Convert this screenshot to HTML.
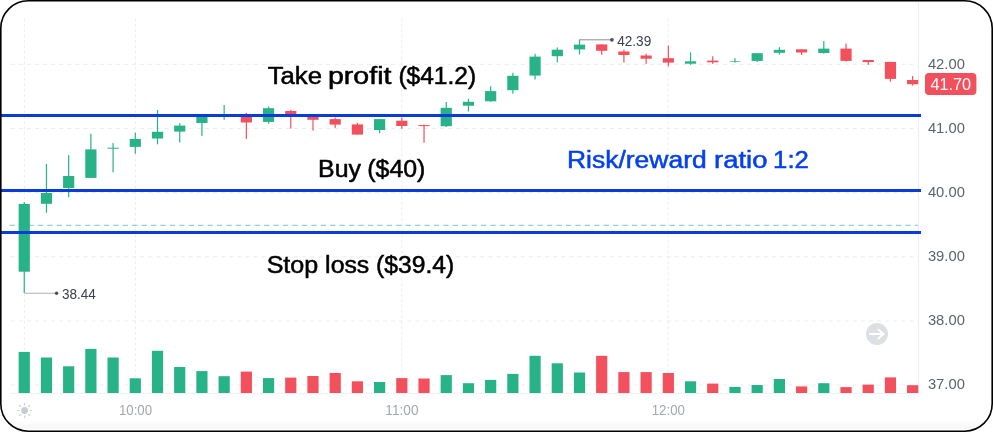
<!DOCTYPE html>
<html><head><meta charset="utf-8"><title>Risk/reward chart</title>
<style>
html,body{margin:0;padding:0;background:#fff;}
body{width:993px;height:432px;overflow:hidden;}
svg{display:block;font-family:"Liberation Sans",sans-serif;}
.an{font-size:23px;fill:#000;stroke:#000;stroke-width:0.5px;}
.bl{fill:#0540ee;stroke:#0540ee;}
.ax{font-size:15.2px;fill:#5e6370;}
.tag{font-size:15.7px;fill:#fff;}
.hl{font-size:14.2px;fill:#3c404c;}
.tm{font-size:14.5px;fill:#a3a7b0;}
</style></head><body>
<svg width="993" height="432" viewBox="0 0 993 432">
<rect x="0" y="0" width="993" height="432" fill="#fff"/>
<line x1="10.65" x2="918" y1="64.3" y2="64.3" stroke="#ebecef" stroke-width="1" stroke-dasharray="4.05 4.047"/>
<line x1="10.65" x2="918" y1="128.5" y2="128.5" stroke="#ebecef" stroke-width="1" stroke-dasharray="4.05 4.047"/>
<line x1="10.65" x2="918" y1="192.7" y2="192.7" stroke="#ebecef" stroke-width="1" stroke-dasharray="4.05 4.047"/>
<line x1="10.65" x2="918" y1="256.8" y2="256.8" stroke="#ebecef" stroke-width="1" stroke-dasharray="4.05 4.047"/>
<line x1="10.65" x2="918" y1="321.0" y2="321.0" stroke="#ebecef" stroke-width="1" stroke-dasharray="4.05 4.047"/>
<line x1="10.65" x2="918" y1="385.0" y2="385.0" stroke="#ebecef" stroke-width="1" stroke-dasharray="4.05 4.047"/>
<line x1="24.4" x2="24.4" y1="18.5" y2="393" stroke="#ebecef" stroke-width="1" stroke-dasharray="2.7 2.7"/>
<line x1="135.4" x2="135.4" y1="18.5" y2="393" stroke="#ebecef" stroke-width="1" stroke-dasharray="2.7 2.7"/>
<line x1="401.8" x2="401.8" y1="18.5" y2="393" stroke="#ebecef" stroke-width="1" stroke-dasharray="2.7 2.7"/>
<line x1="668.2" x2="668.2" y1="18.5" y2="393" stroke="#ebecef" stroke-width="1" stroke-dasharray="2.7 2.7"/>
<line x1="918.5" x2="918.5" y1="2" y2="393.5" stroke="#ededf0" stroke-width="1"/>
<line x1="10.5" x2="918.5" y1="393.5" y2="393.5" stroke="#f1f2f4" stroke-width="1"/>
<rect x="18.65" y="351.9" width="11.2" height="41.1" fill="#27b387"/>
<rect x="40.86" y="357.5" width="11.2" height="35.5" fill="#27b387"/>
<rect x="63.07" y="366.3" width="11.2" height="26.7" fill="#27b387"/>
<rect x="85.28" y="348.9" width="11.2" height="44.1" fill="#27b387"/>
<rect x="107.49" y="357.5" width="11.2" height="35.5" fill="#27b387"/>
<rect x="129.70" y="378.3" width="11.2" height="14.7" fill="#27b387"/>
<rect x="151.91" y="350.8" width="11.2" height="42.2" fill="#27b387"/>
<rect x="174.12" y="367" width="11.2" height="26.0" fill="#27b387"/>
<rect x="196.33" y="371.1" width="11.2" height="21.9" fill="#27b387"/>
<rect x="218.54" y="376.2" width="11.2" height="16.8" fill="#27b387"/>
<rect x="240.75" y="371.6" width="11.2" height="21.4" fill="#f2505d"/>
<rect x="262.96" y="378.1" width="11.2" height="14.9" fill="#27b387"/>
<rect x="285.17" y="377.6" width="11.2" height="15.4" fill="#f2505d"/>
<rect x="307.38" y="376" width="11.2" height="17.0" fill="#f2505d"/>
<rect x="329.59" y="373" width="11.2" height="20.0" fill="#f2505d"/>
<rect x="351.80" y="381.3" width="11.2" height="11.7" fill="#f2505d"/>
<rect x="374.01" y="382" width="11.2" height="11.0" fill="#27b387"/>
<rect x="396.22" y="378.1" width="11.2" height="14.9" fill="#f2505d"/>
<rect x="418.43" y="378.5" width="11.2" height="14.5" fill="#f2505d"/>
<rect x="440.64" y="375.1" width="11.2" height="17.9" fill="#27b387"/>
<rect x="462.85" y="383.2" width="11.2" height="9.8" fill="#27b387"/>
<rect x="485.06" y="379.9" width="11.2" height="13.1" fill="#27b387"/>
<rect x="507.27" y="373.9" width="11.2" height="19.1" fill="#27b387"/>
<rect x="529.48" y="355.8" width="11.2" height="37.2" fill="#27b387"/>
<rect x="551.69" y="363.3" width="11.2" height="29.7" fill="#27b387"/>
<rect x="573.90" y="372.5" width="11.2" height="20.5" fill="#27b387"/>
<rect x="596.11" y="355.8" width="11.2" height="37.2" fill="#f2505d"/>
<rect x="618.32" y="372.1" width="11.2" height="20.9" fill="#f2505d"/>
<rect x="640.53" y="372.1" width="11.2" height="20.9" fill="#f2505d"/>
<rect x="662.74" y="373" width="11.2" height="20.0" fill="#f2505d"/>
<rect x="684.95" y="381.3" width="11.2" height="11.7" fill="#27b387"/>
<rect x="707.16" y="383.6" width="11.2" height="9.4" fill="#f2505d"/>
<rect x="729.37" y="386.9" width="11.2" height="6.1" fill="#27b387"/>
<rect x="751.58" y="385" width="11.2" height="8.0" fill="#27b387"/>
<rect x="773.79" y="379" width="11.2" height="14.0" fill="#27b387"/>
<rect x="796.00" y="386.4" width="11.2" height="6.6" fill="#f2505d"/>
<rect x="818.21" y="383.2" width="11.2" height="9.8" fill="#27b387"/>
<rect x="840.42" y="387.1" width="11.2" height="5.9" fill="#f2505d"/>
<rect x="862.63" y="384.6" width="11.2" height="8.4" fill="#f2505d"/>
<rect x="884.84" y="377.4" width="11.2" height="15.6" fill="#f2505d"/>
<rect x="907.05" y="385.2" width="11.2" height="7.8" fill="#f2505d"/>
<line x1="9.5" x2="918" y1="225.4" y2="225.4" stroke="#8cd7be" stroke-width="1.2" stroke-dasharray="5.3 4.13"/>
<rect x="23.65" y="202" width="1.2" height="91.0" fill="#27b387"/>
<rect x="18.65" y="204" width="11.2" height="67.7" fill="#27b387"/>
<rect x="45.86" y="164" width="1.2" height="48.8" fill="#27b387"/>
<rect x="40.86" y="193" width="11.2" height="10.8" fill="#27b387"/>
<rect x="68.07" y="155.2" width="1.2" height="42.1" fill="#27b387"/>
<rect x="63.07" y="176" width="11.2" height="12.0" fill="#27b387"/>
<rect x="90.28" y="133.7" width="1.2" height="44.2" fill="#27b387"/>
<rect x="85.28" y="149.4" width="11.2" height="28.5" fill="#27b387"/>
<rect x="112.49" y="143.1" width="1.2" height="29.2" fill="#27b387"/>
<rect x="107.49" y="147.7" width="11.2" height="1.0" fill="#27b387"/>
<rect x="134.70" y="132.7" width="1.2" height="21.1" fill="#27b387"/>
<rect x="129.70" y="139" width="11.2" height="7.9" fill="#27b387"/>
<rect x="156.91" y="110" width="1.2" height="34.3" fill="#27b387"/>
<rect x="151.91" y="131.8" width="11.2" height="6.7" fill="#27b387"/>
<rect x="179.12" y="123.2" width="1.2" height="19.3" fill="#27b387"/>
<rect x="174.12" y="125.6" width="11.2" height="6.0" fill="#27b387"/>
<rect x="201.33" y="114" width="1.2" height="22.0" fill="#27b387"/>
<rect x="196.33" y="114" width="11.2" height="9.0" fill="#27b387"/>
<rect x="223.54" y="105" width="1.2" height="14.8" fill="#27b387"/>
<rect x="218.54" y="114.8" width="11.2" height="1.0" fill="#27b387"/>
<rect x="245.75" y="113" width="1.2" height="26.0" fill="#f2505d"/>
<rect x="240.75" y="114" width="11.2" height="8.5" fill="#f2505d"/>
<rect x="267.96" y="106.6" width="1.2" height="17.1" fill="#27b387"/>
<rect x="262.96" y="108.2" width="11.2" height="13.7" fill="#27b387"/>
<rect x="290.17" y="109.8" width="1.2" height="18.8" fill="#f2505d"/>
<rect x="285.17" y="111" width="11.2" height="4.0" fill="#f2505d"/>
<rect x="312.38" y="114" width="1.2" height="16.6" fill="#f2505d"/>
<rect x="307.38" y="114" width="11.2" height="5.8" fill="#f2505d"/>
<rect x="334.59" y="117.5" width="1.2" height="10.4" fill="#f2505d"/>
<rect x="329.59" y="119.1" width="11.2" height="5.5" fill="#f2505d"/>
<rect x="356.80" y="122.8" width="1.2" height="11.8" fill="#f2505d"/>
<rect x="351.80" y="124.4" width="11.2" height="10.2" fill="#f2505d"/>
<rect x="379.01" y="119.1" width="1.2" height="14.1" fill="#27b387"/>
<rect x="374.01" y="119.1" width="11.2" height="10.9" fill="#27b387"/>
<rect x="401.22" y="117.5" width="1.2" height="11.3" fill="#f2505d"/>
<rect x="396.22" y="120.7" width="11.2" height="5.3" fill="#f2505d"/>
<rect x="423.43" y="124.6" width="1.2" height="18.1" fill="#f2505d"/>
<rect x="418.43" y="125.1" width="11.2" height="1.0" fill="#f2505d"/>
<rect x="445.64" y="102" width="1.2" height="25.0" fill="#27b387"/>
<rect x="440.64" y="107.8" width="11.2" height="18.4" fill="#27b387"/>
<rect x="467.85" y="98.8" width="1.2" height="12.7" fill="#27b387"/>
<rect x="462.85" y="101.8" width="11.2" height="3.9" fill="#27b387"/>
<rect x="490.06" y="86.3" width="1.2" height="15.5" fill="#27b387"/>
<rect x="485.06" y="91.1" width="11.2" height="10.2" fill="#27b387"/>
<rect x="512.27" y="72.8" width="1.2" height="20.9" fill="#27b387"/>
<rect x="507.27" y="75.8" width="11.2" height="14.4" fill="#27b387"/>
<rect x="534.48" y="53.8" width="1.2" height="25.7" fill="#27b387"/>
<rect x="529.48" y="56.6" width="11.2" height="19.0" fill="#27b387"/>
<rect x="556.69" y="47.4" width="1.2" height="15.0" fill="#27b387"/>
<rect x="551.69" y="49.7" width="11.2" height="6.5" fill="#27b387"/>
<rect x="578.90" y="39.7" width="1.2" height="14.7" fill="#27b387"/>
<rect x="573.90" y="44.6" width="11.2" height="4.8" fill="#27b387"/>
<rect x="601.11" y="44.4" width="1.2" height="10.4" fill="#f2505d"/>
<rect x="596.11" y="44.4" width="11.2" height="6.4" fill="#f2505d"/>
<rect x="623.32" y="49.7" width="1.2" height="12.9" fill="#f2505d"/>
<rect x="618.32" y="51.5" width="11.2" height="3.5" fill="#f2505d"/>
<rect x="645.53" y="53.8" width="1.2" height="10.0" fill="#f2505d"/>
<rect x="640.53" y="55.5" width="11.2" height="3.2" fill="#f2505d"/>
<rect x="667.74" y="45.5" width="1.2" height="21.0" fill="#f2505d"/>
<rect x="662.74" y="58.2" width="11.2" height="4.4" fill="#f2505d"/>
<rect x="689.95" y="52.3" width="1.2" height="12.5" fill="#27b387"/>
<rect x="684.95" y="61.3" width="11.2" height="2.4" fill="#27b387"/>
<rect x="712.16" y="56.3" width="1.2" height="7.6" fill="#f2505d"/>
<rect x="707.16" y="60.6" width="11.2" height="1.7" fill="#f2505d"/>
<rect x="734.37" y="58.1" width="1.2" height="4.6" fill="#27b387"/>
<rect x="729.37" y="61.0" width="11.2" height="0.6" fill="#27b387"/>
<rect x="756.58" y="53.2" width="1.2" height="8.8" fill="#27b387"/>
<rect x="751.58" y="53.2" width="11.2" height="7.7" fill="#27b387"/>
<rect x="778.79" y="47.2" width="1.2" height="7.4" fill="#27b387"/>
<rect x="773.79" y="49.8" width="11.2" height="3.0" fill="#27b387"/>
<rect x="801.00" y="49.3" width="1.2" height="5.6" fill="#f2505d"/>
<rect x="796.00" y="49.3" width="11.2" height="3.2" fill="#f2505d"/>
<rect x="823.21" y="41" width="1.2" height="12.7" fill="#27b387"/>
<rect x="818.21" y="48.6" width="11.2" height="4.4" fill="#27b387"/>
<rect x="845.42" y="43.5" width="1.2" height="18.1" fill="#f2505d"/>
<rect x="840.42" y="48.6" width="11.2" height="12.3" fill="#f2505d"/>
<rect x="867.63" y="60" width="1.2" height="5.0" fill="#f2505d"/>
<rect x="862.63" y="60" width="11.2" height="2.1" fill="#f2505d"/>
<rect x="889.84" y="61.9" width="1.2" height="19.8" fill="#f2505d"/>
<rect x="884.84" y="61.9" width="11.2" height="17.0" fill="#f2505d"/>
<rect x="912.05" y="76.1" width="1.2" height="9.5" fill="#f2505d"/>
<rect x="907.05" y="80" width="11.2" height="4.2" fill="#f2505d"/>
<line x1="24.5" x2="55" y1="293.3" y2="293.3" stroke="#b9bbc1" stroke-width="1.2"/>
<circle cx="56.6" cy="293.2" r="1.7" fill="#4a4d57"/>
<text x="62.1" y="298.8" class="hl" textLength="33.8" lengthAdjust="spacingAndGlyphs">38.44</text>
<line x1="579.2" x2="610.5" y1="39.8" y2="39.8" stroke="#6f7075" stroke-width="0.8"/>
<circle cx="611.9" cy="39.8" r="1.9" fill="#505258"/>
<text x="617.2" y="45.7" class="hl" textLength="34.1" lengthAdjust="spacingAndGlyphs">42.39</text>
<rect x="1" y="114" width="920" height="3" fill="#0a3cdc"/>
<rect x="1" y="189" width="920" height="3" fill="#0a3cdc"/>
<rect x="1" y="231" width="920" height="3" fill="#0a3cdc"/>
<text y="84.2" class="an"><tspan x="267.66" textLength="54.36" lengthAdjust="spacingAndGlyphs">Take</tspan> <tspan x="327.97" textLength="63.45" lengthAdjust="spacingAndGlyphs">profit</tspan> <tspan x="398.41" textLength="77.74" lengthAdjust="spacingAndGlyphs">($41.2)</tspan></text>
<text y="177.0" class="an"><tspan x="318.08" textLength="42.88" lengthAdjust="spacingAndGlyphs">Buy</tspan> <tspan x="367.29" textLength="58.14" lengthAdjust="spacingAndGlyphs">($40)</tspan></text>
<text y="272.7" class="an"><tspan x="266.65" textLength="51.62" lengthAdjust="spacingAndGlyphs">Stop</tspan> <tspan x="325.11" textLength="44.17" lengthAdjust="spacingAndGlyphs">loss</tspan> <tspan x="376.13" textLength="78.15" lengthAdjust="spacingAndGlyphs">($39.4)</tspan></text>
<text y="168.2" class="an bl"><tspan x="566.99" textLength="139.68" lengthAdjust="spacingAndGlyphs">Risk/reward</tspan> <tspan x="714.08" textLength="53.36" lengthAdjust="spacingAndGlyphs">ratio</tspan> <tspan x="773.12" textLength="35.74" lengthAdjust="spacingAndGlyphs">1:2</tspan></text>
<text x="927.9" y="68.7" class="ax" textLength="37" lengthAdjust="spacingAndGlyphs">42.00</text>
<text x="927.9" y="132.6" class="ax" textLength="37" lengthAdjust="spacingAndGlyphs">41.00</text>
<text x="927.9" y="196.7" class="ax" textLength="37" lengthAdjust="spacingAndGlyphs">40.00</text>
<text x="927.9" y="260.8" class="ax" textLength="37" lengthAdjust="spacingAndGlyphs">39.00</text>
<text x="927.9" y="325.0" class="ax" textLength="37" lengthAdjust="spacingAndGlyphs">38.00</text>
<text x="927.9" y="389.2" class="ax" textLength="37" lengthAdjust="spacingAndGlyphs">37.00</text>
<rect x="925" y="72.9" width="51.4" height="22" rx="4" fill="#f2505d"/>
<text x="930.4" y="89.7" class="tag" textLength="40.7" lengthAdjust="spacingAndGlyphs">41.70</text>
<text x="118.9" y="414.7" class="tm" textLength="33.2" lengthAdjust="spacingAndGlyphs">10:00</text>
<text x="385.3" y="414.7" class="tm" textLength="33.2" lengthAdjust="spacingAndGlyphs">11:00</text>
<text x="651.7" y="414.7" class="tm" textLength="33.2" lengthAdjust="spacingAndGlyphs">12:00</text>
<g stroke="#cfd1d6" stroke-width="1.2" stroke-linecap="round">
<line x1="30.30" y1="410.50" x2="31.70" y2="410.50"/>
<line x1="28.63" y1="414.53" x2="29.62" y2="415.52"/>
<line x1="24.60" y1="416.20" x2="24.60" y2="417.60"/>
<line x1="20.57" y1="414.53" x2="19.58" y2="415.52"/>
<line x1="18.90" y1="410.50" x2="17.50" y2="410.50"/>
<line x1="20.57" y1="406.47" x2="19.58" y2="405.48"/>
<line x1="24.60" y1="404.80" x2="24.60" y2="403.40"/>
<line x1="28.63" y1="406.47" x2="29.62" y2="405.48"/>
</g><circle cx="24.6" cy="410.5" r="3.4" fill="#c9cbd0"/>
<circle cx="877" cy="334" r="11" fill="#dcdfe4"/>
<path d="M870 334H883.2M878.4 329.7L883.6 334L878.4 338.4" fill="none" stroke="#fff" stroke-width="2" stroke-linecap="round" stroke-linejoin="round"/>
<defs><linearGradient id="bg" x1="0" y1="0" x2="0" y2="1"><stop offset="0" stop-color="#fff"/><stop offset="1" stop-color="#f5f5f5"/></linearGradient><clipPath id="cp"><rect x="0.8" y="0.8" width="991.4" height="430.4" rx="27.5"/></clipPath></defs>
<rect x="1" y="420.5" width="991" height="8.2" fill="url(#bg)" clip-path="url(#cp)"/>
<rect x="0.8" y="0.8" width="991.4" height="430.4" rx="27.5" fill="none" stroke="#000" stroke-width="1.6"/>
</svg>
</body></html>
